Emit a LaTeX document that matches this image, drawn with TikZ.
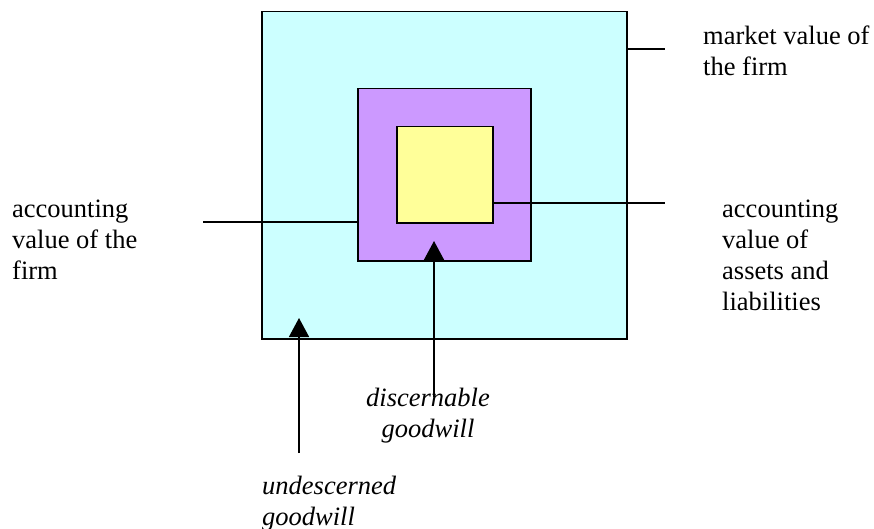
\documentclass[tikz,border=0pt]{standalone}
\usepackage{fontspec}
\setmainfont{Liberation Serif}
\usetikzlibrary{arrows.meta}
\definecolor{outerc}{HTML}{CCFFFF}
\definecolor{midc}{HTML}{CC99FF}
\definecolor{innerc}{HTML}{FFFF99}
\begin{document}
\begin{tikzpicture}[x=1pt,y=-1pt,
  box/.style={draw=black,line width=1.5pt,inner sep=0pt,anchor=north west},
  lbl/.style={inner sep=0pt,font=\fontsize{26.5}{31}\selectfont},
  conn/.style={draw=black,line width=1.5pt},
  arr/.style={conn,-{Triangle[width=20pt,length=19pt]}}]
\useasboundingbox (0,0) rectangle (874,529);
\node[box,fill=outerc,minimum width=365pt,minimum height=327pt] (outer) at (261,11) {};
\node[box,fill=midc,minimum width=173pt,minimum height=172pt] (mid) at (357,88) {};
\node[box,fill=innerc,minimum width=96pt,minimum height=96pt] (inner) at (396,126) {};
% labels (base anchor = baseline of the last line)
\node[lbl,align=left,anchor=base west] (market) at (703,76) {market value of\\the firm};
\node[lbl,align=left,anchor=base west] (accf) at (12,279) {accounting\\value of the\\firm};
\node[lbl,align=left,anchor=base west] (acca) at (722,310) {accounting\\value of\\assets and\\liabilities};
\node[lbl,align=center,anchor=base,font=\fontsize{26.5}{31}\selectfont\itshape] (disc) at (428,437) {discernable\\goodwill};
\node[lbl,align=left,anchor=base west,font=\fontsize{26.5}{31}\selectfont\itshape] (undisc) at (262,525) {undescerned\\goodwill};
% connectors
\coordinate (m1) at (outer.east |- 0,49);
\coordinate (m2) at (665,49);
\draw[conn] (m1) -- (m2);
\coordinate (f1) at (203,222);
\coordinate (f2) at (mid.west |- 0,222);
\draw[conn] (f1) -- (f2);
\coordinate (a1) at (inner.east |- 0,203);
\coordinate (a2) at (665,203);
\draw[conn] (a1) -- (a2);
\coordinate (u1) at (299,453);
\coordinate (u2) at (299,318);
\draw[arr] (u1) -- (u2);
\coordinate (d1) at (434,397);
\coordinate (d2) at (434,241);
\draw[arr] (d1) -- (d2);
\end{tikzpicture}
\end{document}
